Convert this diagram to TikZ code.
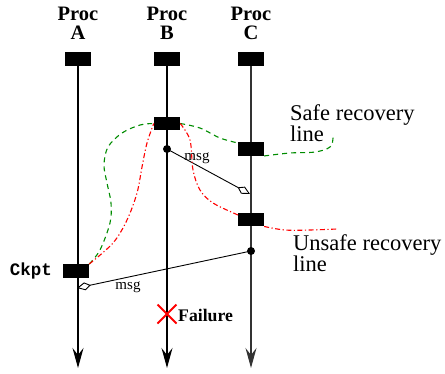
\documentclass[tikz,border=0pt]{standalone}
\usepackage{fontspec}
\setmainfont{Liberation Serif}
\setmonofont{Liberation Mono}
\usetikzlibrary{arrows.meta,calc}
\begin{document}
\begin{tikzpicture}[x=1pt,y=-1pt,
  ckbox/.style={fill=black,draw=none,minimum width=26pt,minimum height=13.5pt,inner sep=0pt},
  proc/.style={line width=1.3pt,-{Stealth[length=20pt,width=11pt,inset=7pt]}},
  msgline/.style={line width=0.9pt,-{Kite[open,fill=white,length=14pt,width=8pt,inset=6pt]}},
  dotn/.style={circle,fill=black,inner sep=0pt,minimum size=8pt},
  title/.style={font=\fontsize{20.5}{19}\selectfont\bfseries,align=center},
  lbl/.style={font=\fontsize{22.5}{21}\selectfont,align=left,anchor=north west,inner sep=0pt},
  small/.style={font=\fontsize{15}{15}\selectfont,inner sep=0pt},
  safe/.style={dashed,dash pattern=on 5pt off 4pt,line width=1.1pt,draw={rgb,255:red,0;green,140;blue,0}},
  unsafe/.style={line width=1.1pt,draw=red,dash pattern=on 5pt off 2.5pt on 1.2pt off 2.5pt}
]
\useasboundingbox (0,0) rectangle (445,373);
% titles
\node[title] (tA) at (78,23) {Proc\\A};
\node[title] (tB) at (167,23) {Proc\\B};
\node[title] (tC) at (251,23) {Proc\\C};
% top boxes
\node[ckbox] (a0) at (78,59) {};
\node[ckbox] (b0) at (167,59) {};
\node[ckbox] (c0) at (251,59) {};
% end coordinates
\coordinate (aend) at (78,368);
\coordinate (bend) at (167,368);
\coordinate (cend) at (251,368);
\draw[proc] (a0.south) -- (aend);
\draw[proc] (b0.south) -- (bend);
\draw[proc,draw=black!80] (c0.south) -- (cend);
% checkpoints
\node[ckbox] (b1) at (167,123.5) {};
\node[ckbox] (c1) at (251,149) {};
\node[ckbox] (c2) at (251,219.5) {};
\node[ckbox] (a1) at (76,271) {};
% message dots
\node[dotn] (d1) at (167,149) {};
\node[dotn] (d2) at (251,251) {};
\coordinate (m1) at (250,194);
\coordinate (m2) at (77,288);
\draw[msgline] (d1.center) -- (m1);
\draw[msgline] (d2.center) -- (m2);
\node[small] (ms1) at (197,158) {msg};
\node[small] (ms2) at (128,287) {msg};
% labels
\node[font=\fontsize{17.5}{17}\selectfont\ttfamily\bfseries,inner sep=0pt] (ck) at (31,271) {Ckpt};
\node[lbl] (safe) at (290,104) {Safe recovery\\line};
\node[lbl] (unsafe) at (293,234) {Unsafe recovery\\line};
% failure
\coordinate (x0) at (167,314);
\draw[red,line width=2pt] ($(x0)+(-9.5,-9.5)$) -- ($(x0)+(9.5,9.5)$) ($(x0)+(-9.5,9.5)$) -- ($(x0)+(9.5,-9.5)$);
\node[font=\fontsize{17.7}{17}\selectfont\bfseries,anchor=west,inner sep=0pt] (fail) at (178,315) {Failure};
% safe recovery line (green)
\draw[safe] plot[smooth,tension=0.55] coordinates {(a1.north east) (100,250) (110,223) (111,203) (107,183) (104,165) (108,147) (122,133) (140,125) (b1.west)};
\draw[safe] plot[smooth,tension=0.55] coordinates {(b1.east) (200,128) (220,138) (238,143)};
\draw[safe] plot[smooth,tension=0.6] coordinates {(c1.south east) (290,153) (315,152) (330,147) (333,138) (332,135)};
% unsafe recovery line (red)
\draw[unsafe] plot[smooth,tension=0.55] coordinates {(a1.north east) (113,243) (127,220) (137,193) (142,167) (147,143) (b1.west)};
\draw[unsafe] plot[smooth,tension=0.55] coordinates {(b1.east) (190,140) (193,170) (200,190) (213,203) (238,215)};
\draw[unsafe] plot[smooth,tension=0.6] coordinates {(c2.south east) (285,230) (310,230) (337,229)};
\end{tikzpicture}
\end{document}
